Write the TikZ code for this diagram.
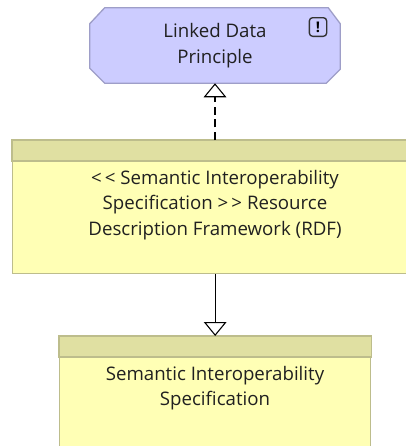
\documentclass[tikz,border=0pt]{standalone}
\usepackage{fontspec}
\setmainfont{Open Sans}
\usetikzlibrary{arrows.meta,calc}
\definecolor{prinfill}{HTML}{CCCCFF}
\definecolor{prinline}{HTML}{9E9EC8}
\definecolor{boxfill}{HTML}{FFFFB5}
\definecolor{boxhead}{HTML}{E0E0A2}
\definecolor{boxline}{HTML}{BDBD8C}
\definecolor{txt}{HTML}{202020}
\tikzset{
  lbl/.style={align=center, text=txt, font=\fontsize{14}{19}\selectfont, inner sep=0pt},
  artbox/.style={draw=boxline, fill=boxfill, line width=1pt, inner sep=0pt, anchor=north west},
  headband/.style={draw=boxline, fill=boxhead, line width=1pt},
  realize/.style={-{Triangle[open,length=10.5pt,width=17pt]}, line width=0.8pt, dash pattern=on 6pt off 3.5pt},
  special/.style={-{Triangle[open,length=10.5pt,width=17pt]}, line width=0.8pt},
}
\begin{document}
\begin{tikzpicture}[x=0.75pt,y=-0.75pt]
\useasboundingbox (0,0) rectangle (406,446);
% principle
\node[inner sep=0pt, minimum width=187.5pt, minimum height=56.25pt] (ldp) at (215,45.5) {};
\filldraw[fill=prinfill, draw=prinline, line width=1pt]
  ($(ldp.north west)+(15,0)$) -- ($(ldp.north east)+(-12,0)$) -- ($(ldp.north east)+(0,16)$)
  -- ($(ldp.south east)+(0,-14)$) -- ($(ldp.south east)+(-14,0)$) -- ($(ldp.south west)+(15,0)$)
  -- ($(ldp.south west)+(0,-15)$) -- ($(ldp.north west)+(0,16)$) -- cycle;
\node[lbl] (ldptext) at (215,45.5) {Linked Data\\Principle};
\node[draw=black!80, line width=1pt, rounded corners=2.5pt, minimum width=13pt, minimum height=14pt, inner sep=0pt, font=\fontsize{11}{11}\bfseries\selectfont] (icon) at (318,27) {!};
% RDF box
\node[artbox, minimum width=304.5pt, minimum height=99.75pt] (rdf) at (12,140) {};
\draw[headband] (rdf.north west) rectangle ($(rdf.north east)+(0,21)$);
\node[lbl] (rdftext) at (215,205) {{<}\,{<} Semantic Interoperability\\Specification {>}\,{>} Resource\\Description Framework (RDF)};
% SIS box
\node[artbox, minimum width=233.25pt, minimum height=100pt] (sis) at (59,336) {};
\draw[headband] (sis.north west) rectangle ($(sis.north east)+(0,21)$);
\node[lbl] (sistext) at (215,388) {Semantic Interoperability\\Specification};
% connectors
\draw[realize] (rdf.north -| ldp.south) -- (ldp.south);
\draw[special] (rdf.south -| sis.north) -- (sis.north);
\end{tikzpicture}
\end{document}
